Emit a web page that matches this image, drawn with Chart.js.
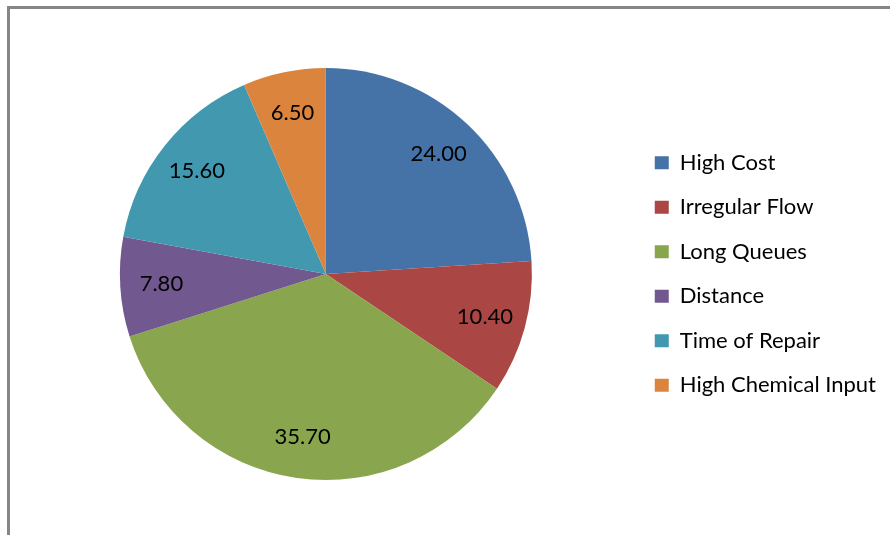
<!DOCTYPE html>
<html>
<head>
<meta charset="utf-8">
<script src="https://cdn.jsdelivr.net/npm/chart.js@4.4.1/dist/chart.umd.min.js"></script>
<style>
  html, body { margin: 0; padding: 0; background: #ffffff; overflow: hidden; }
  #wrap { position: relative; width: 890px; height: 535px; }
  #frame { position: absolute; left: 7px; top: 6px; width: 900px; height: 600px; border-left: 3px solid #868686; border-top: 3px solid #868686; }
  canvas { position: absolute; left: 0; top: 0; }
</style>
</head>
<body>
<div id="wrap">
  <div id="frame"></div>
  <canvas id="c" width="890" height="535"></canvas>
</div>
<script>
const categories = ["High Cost", "Irregular Flow", "Long Queues", "Distance", "Time of Repair", "High Chemical Input"];
const values = [24.00, 10.40, 35.70, 7.80, 15.60, 6.50];
const colors = ["#4572A7", "#AA4643", "#89A54E", "#71588F", "#4198AF", "#DB843D"];

const FONT = "Lato, 'Liberation Sans', sans-serif";

const valueLabels = {
  id: 'valueLabels',
  afterDatasetsDraw(chart) {
    const ctx = chart.ctx;
    const meta = chart.getDatasetMeta(0);
    ctx.save();
    ctx.font = "22px " + FONT;
    ctx.fillStyle = "#000000";
    ctx.textAlign = "center";
    ctx.textBaseline = "middle";
    meta.data.forEach((arc, i) => {
      const p = arc.getProps(['x', 'y', 'startAngle', 'endAngle', 'outerRadius'], true);
      const mid = (p.startAngle + p.endAngle) / 2;
      const r = p.outerRadius * 0.8;
      ctx.fillText(values[i].toFixed(2), p.x + Math.cos(mid) * r, p.y + Math.sin(mid) * r);
    });
    ctx.restore();
  }
};

new Chart(document.getElementById('c'), {
  type: 'pie',
  data: {
    labels: categories,
    datasets: [{
      data: values,
      backgroundColor: colors,
      borderWidth: 0
    }]
  },
  options: {
    responsive: false,
    animation: false,
    layout: { padding: { left: 19.5, top: 68, bottom: 55, right: 4 } },
    plugins: {
      tooltip: { enabled: false },
      legend: {
        position: 'right',
        labels: {
          boxWidth: 14,
          boxHeight: 13,
          padding: 22.5,
          color: '#000000',
          font: { family: FONT, size: 22 }
        }
      }
    }
  },
  plugins: [valueLabels]
});
</script>
</body>
</html>
